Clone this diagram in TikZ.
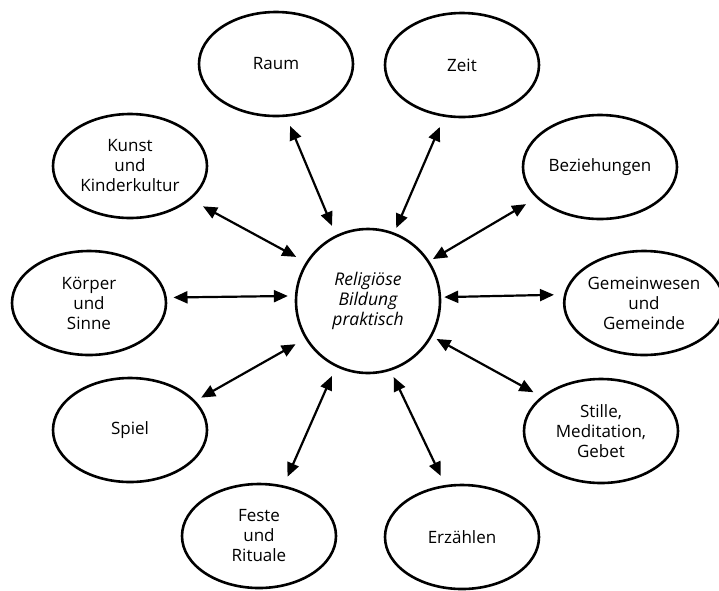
\documentclass[tikz,border=0pt]{standalone}
\usepackage{fontspec}
\setmainfont{Open Sans}
\usetikzlibrary{arrows.meta,shapes.geometric}
\begin{document}
\begin{tikzpicture}[x=1pt,y=-1pt,
  bubble/.style={ellipse, draw, line width=2.6pt, minimum width=154pt, minimum height=104pt, inner sep=0pt, align=center, font=\fontsize{17}{20}\selectfont},
  hub/.style={circle, draw, line width=2.6pt, minimum size=144pt, inner sep=0pt, align=center, font=\fontsize{17.5}{20}\selectfont\itshape},
  conn/.style={{Triangle[length=14pt,width=12pt]}-{Triangle[length=14pt,width=12pt]}, line width=2.2pt},
]
\fill[white] (0,0) rectangle (719,590);
\useasboundingbox (0,0) rectangle (719,590);

\node[hub] (hub) at (368,301) {\raisebox{-5pt}{\parbox{100pt}{\centering Religiöse\\Bildung\\praktisch}}};

\node[bubble] (raum) at (276,64) {Raum};
\node[bubble] (zeit) at (462,65) {Zeit};
\node[bubble] (bez) at (600,167) {Beziehungen};
\node[bubble] (kunst) at (130,166) {Kunst\\und\\Kinderkultur};
\node[bubble] (koerper) at (89,303) {Körper\\und\\Sinne};
\node[bubble] (gem) at (644,303) {Gemeinwesen\\und\\Gemeinde};
\node[bubble] (spiel) at (130,430) {Spiel};
\node[bubble] (stille) at (601,431) {Stille,\\Meditation,\\Gebet};
\node[bubble] (feste) at (259,536) {Feste\\und\\Rituale};
\node[bubble] (erz) at (462,537) {Erzählen};

\draw[conn, shorten <=10pt, shorten >=10pt] (hub.116.6) -- (raum.281.8);
\draw[conn, shorten <=5pt, shorten >=11pt] (hub.69.7) -- (zeit.251.3);
\draw[conn, shorten <=4pt, shorten >=12pt] (hub.33.9) -- (bez.206.9);
\draw[conn, shorten <=3pt, shorten >=10pt] (hub.3.8) -- (gem.174.7);
\draw[conn, shorten <=5pt, shorten >=9pt] (hub.331.8) -- (stille.150.8);
\draw[conn, shorten <=7pt, shorten >=10pt] (hub.288.9) -- (erz.108.2);
\draw[conn, shorten <=10pt, shorten >=9.5pt] (hub.244.4) -- (feste.64.6);
\draw[conn, shorten <=11pt, shorten >=6.5pt] (hub.211.4) -- (spiel.24.3);
\draw[conn, shorten <=7pt, shorten >=6.6pt] (hub.176.4) -- (koerper.4.8);
\draw[conn, shorten <=11pt, shorten >=14pt] (hub.148.6) -- (kunst.331);
\end{tikzpicture}
\end{document}
